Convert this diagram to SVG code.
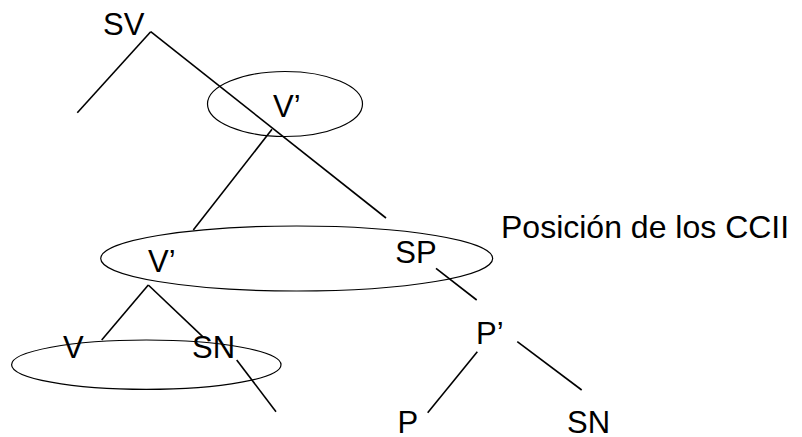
<svg xmlns="http://www.w3.org/2000/svg" width="802" height="437" viewBox="0 0 802 437">
<style>
  .lbl { font-family: "Liberation Sans", Arial, sans-serif; font-size: 31px; fill: #000; }
  .note { font-family: "Liberation Sans", Arial, sans-serif; font-size: 32px; fill: #000; }
  .ell { fill: none; stroke: #000; stroke-width: 1.2; }
  .edge { stroke: #000; stroke-width: 1.6; fill: none; }
</style>
<rect width="802" height="437" fill="#fff"/>
<g id="connectors">
  <line class="edge" x1="150.7" y1="31.7" x2="77.3" y2="112.7"/>
  <line class="edge" x1="150.7" y1="31.7" x2="386" y2="218"/>
  <line class="edge" x1="272" y1="129.3" x2="193.3" y2="230"/>
  <line class="edge" x1="436" y1="268.3" x2="476.7" y2="300"/>
  <line class="edge" x1="148.3" y1="285" x2="101.7" y2="340"/>
  <line class="edge" x1="148.3" y1="285" x2="202.7" y2="336.7"/>
  <line class="edge" x1="236.7" y1="360" x2="276" y2="411.7"/>
  <line class="edge" x1="477.3" y1="351.7" x2="427.7" y2="412.7"/>
  <line class="edge" x1="517.3" y1="341.7" x2="581.7" y2="390"/>
</g>
<g id="ellipse-top"><ellipse class="ell" cx="285" cy="104" rx="77.5" ry="32.5"/></g>
<g id="ellipse-mid"><ellipse class="ell" cx="296.7" cy="258.5" rx="196" ry="32.5"/></g>
<g id="ellipse-bottom"><ellipse class="ell" cx="146.3" cy="364.7" rx="134.7" ry="24.7"/></g>
<g id="node-SV"><text class="lbl" x="103" y="34.5">SV</text></g>
<g id="node-Vbar-top"><text class="lbl" x="273" y="116.7">V’</text></g>
<g id="node-Vbar-mid"><text class="lbl" x="148" y="271.7">V’</text></g>
<g id="node-SP"><text class="lbl" x="395.3" y="263.3">SP</text></g>
<g id="node-V"><text class="lbl" x="63" y="358.3">V</text></g>
<g id="node-SN-obj"><text class="lbl" x="192" y="358.3">SN</text></g>
<g id="node-Pbar"><text class="lbl" x="476" y="344.3">P’</text></g>
<g id="node-P"><text class="lbl" x="397.6" y="433.3">P</text></g>
<g id="node-SN-p"><text class="lbl" x="567" y="433">SN</text></g>
<g id="note"><text class="note" x="501" y="237.7">Posición de los CCII</text></g>
</svg>
